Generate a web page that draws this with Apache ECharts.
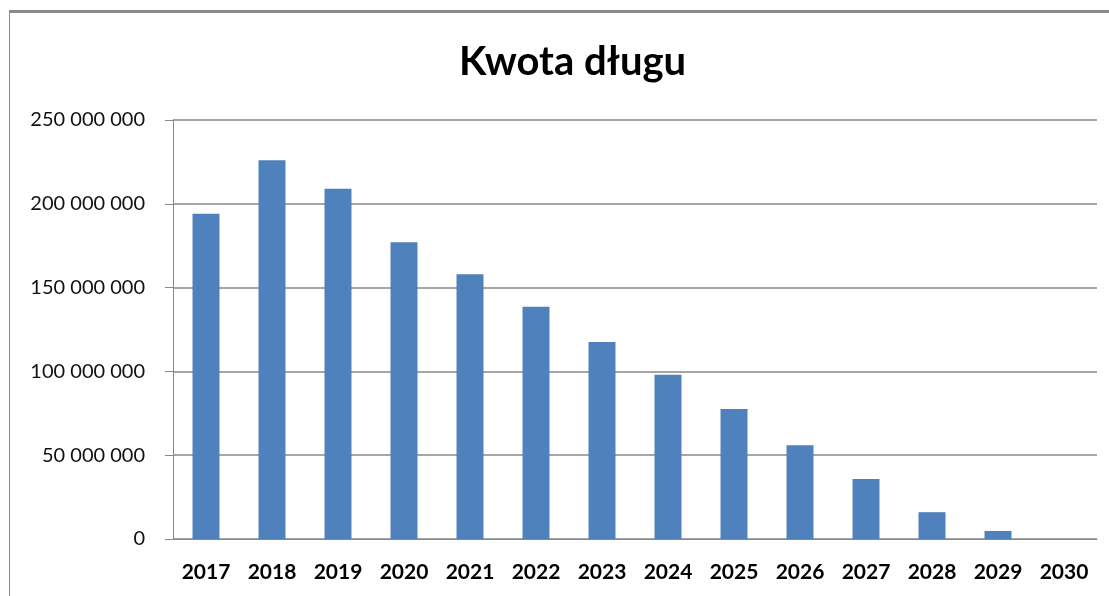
<!DOCTYPE html>
<html>
  <head>
    <meta charset="utf-8">
    <title>Kwota długu</title>
    <style>
      html, body { margin: 0; padding: 0; background: #fff; overflow: hidden; }
      #frame {
        position: absolute; left: 9px; top: 10px; width: 1200px; height: 700px;
        border-top: 3px solid #8a8a8a; border-left: 1px solid #8a8a8a;
      }
      #chart { position: absolute; left: 0; top: 0; width: 1109px; height: 596px; }
    </style>
    <script src="https://cdn.jsdelivr.net/npm/echarts@6/dist/echarts.min.js"></script>
  </head>
  <body>
    <div id="frame"></div>
    <div id="chart"></div>
    <script>
      var years = ["2017", "2018", "2019", "2020", "2021", "2022", "2023",
                   "2024", "2025", "2026", "2027", "2028", "2029", "2030"];
      var debt = [194000000, 226000000, 209000000, 177000000, 158000000, 138500000, 117500000,
                  98000000, 77500000, 56000000, 35800000, 16000000, 4800000, 0];
      var yTicks = [0, 50000000, 100000000, 150000000, 200000000, 250000000];

      function fmt(v) {
        return String(v).replace(/\B(?=(\d{3})+(?!\d))/g, " ");
      }

      var myChart = echarts.init(document.getElementById('chart'));
      myChart.setOption({
        animation: false,
        title: {
          text: 'Kwota długu',
          left: 454,
          top: 37,
          textStyle: { fontFamily: 'Lato', fontWeight: 'bold', fontSize: 40, color: '#000' }
        },
        grid: { left: 173, right: 12, top: 120, bottom: 57 },
        xAxis: {
          type: 'category',
          data: years,
          axisLine: { lineStyle: { color: '#888', width: 1 } },
          axisTick: { length: 9, lineStyle: { color: '#888' } },
          axisLabel: {
            interval: 0, hideOverlap: false,
            margin: 23, color: '#000', fontFamily: 'Lato', fontWeight: 'bold', fontSize: 21
          }
        },
        yAxis: {
          type: 'value',
          min: yTicks[0],
          max: yTicks[yTicks.length - 1],
          interval: yTicks[1] - yTicks[0],
          axisLine: { show: true, lineStyle: { color: '#888', width: 1 } },
          axisTick: { show: true, length: 8, lineStyle: { color: '#888' } },
          splitLine: { lineStyle: { color: '#888', width: 1.5 } },
          axisLabel: {
            margin: 28, color: '#111', fontFamily: 'Lato', fontSize: 20,
            formatter: fmt
          }
        },
        series: [{
          type: 'bar',
          data: debt,
          barWidth: 27,
          itemStyle: { color: '#4F81BD' }
        }]
      });
    </script>
  </body>
</html>
